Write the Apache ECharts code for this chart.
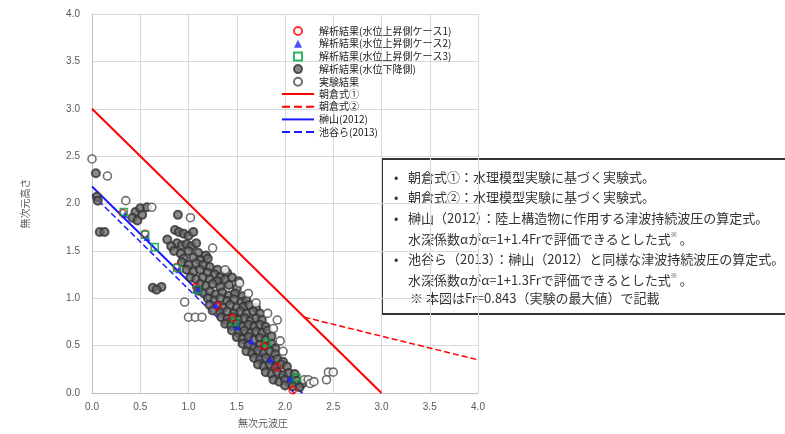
<!DOCTYPE html>
<html><head><meta charset="utf-8">
<script src="https://cdn.jsdelivr.net/npm/echarts@6/dist/echarts.min.js"></script>
<style>html,body{margin:0;padding:0;background:#fff}#c{width:785px;height:434px}</style>
</head><body><div id="c"></div>
<script>
// ---- data ----
const case1 = [[0.32,1.90],[0.55,1.68],[0.88,1.33],[1.08,1.12],[1.30,0.92],[1.45,0.79],[1.78,0.50],[1.92,0.27],[2.08,0.03]];
const case2 = [[0.34,1.88],[0.57,1.64],[0.90,1.30],[1.10,1.10],[1.28,0.93],[1.50,0.70],[1.65,0.55],[1.85,0.35],[2.05,0.15]];
const case3 = [[0.33,1.91],[0.55,1.67],[0.65,1.54],[0.88,1.32],[1.09,1.09],[1.48,0.75],[1.81,0.53],[2.12,0.16]];
const falling = [
 [0.04,2.32],[0.05,2.07],[0.06,2.03],[0.08,1.70],[0.13,1.70],
 [0.45,1.91],[0.50,1.95],[0.57,1.96],[0.42,1.85],[0.47,1.82],[0.52,1.88],
 [0.63,1.11],[0.72,1.12],[0.67,1.09],[0.89,1.88],
 [0.86,1.72],[0.90,1.70],[0.95,1.68],[1.00,1.66],[1.05,1.70],
 [0.78,1.62],[0.88,1.58],[0.93,1.56],[0.98,1.57],[1.03,1.55],[1.08,1.58],[0.82,1.55],
 [0.85,1.50],[0.92,1.47],[1.00,1.50],[1.10,1.48],[1.18,1.45],[0.95,1.42],[1.05,1.43],[1.12,1.40],[1.20,1.42],
 [0.93,1.38],[1.00,1.35],[1.08,1.37],[1.15,1.35],[1.22,1.33],[1.30,1.30],[1.40,1.27],[0.98,1.30],[1.05,1.28],[1.12,1.30],[1.20,1.27],[1.27,1.25],[1.33,1.22],
 [1.02,1.22],[1.08,1.20],[1.15,1.22],[1.22,1.20],[1.30,1.18],[1.38,1.20],[1.45,1.22],[1.52,1.18],[1.12,1.15],[1.18,1.13],[1.25,1.15],[1.33,1.12],[1.42,1.14],[1.50,1.10],
 [1.10,1.08],[1.16,1.05],[1.22,1.07],[1.28,1.04],[1.35,1.06],[1.42,1.03],[1.48,1.05],[1.56,1.02],[1.20,1.00],[1.27,0.98],[1.33,1.00],[1.40,0.97],[1.47,0.99],[1.55,0.96],[1.60,0.98],
 [1.22,0.93],[1.30,0.92],[1.36,0.90],[1.43,0.93],[1.50,0.90],[1.57,0.91],[1.63,0.93],[1.70,0.90],[1.25,0.87],[1.33,0.85],[1.40,0.86],[1.47,0.84],[1.54,0.86],[1.60,0.84],[1.67,0.86],[1.74,0.84],
 [1.34,0.80],[1.40,0.78],[1.46,0.80],[1.52,0.77],[1.58,0.79],[1.64,0.76],[1.70,0.79],[1.76,0.77],[1.38,0.73],[1.44,0.71],[1.50,0.73],[1.56,0.70],[1.62,0.72],[1.68,0.70],[1.74,0.72],[1.80,0.70],
 [1.45,0.66],[1.52,0.64],[1.58,0.66],[1.64,0.63],[1.70,0.65],[1.76,0.63],[1.82,0.66],[1.50,0.59],[1.56,0.57],[1.62,0.59],[1.68,0.56],[1.74,0.58],[1.80,0.56],[1.86,0.60],
 [1.56,0.52],[1.62,0.50],[1.68,0.48],[1.74,0.51],[1.80,0.49],[1.86,0.52],[1.90,0.47],[1.60,0.44],[1.66,0.42],[1.72,0.45],[1.78,0.42],[1.84,0.44],[1.90,0.41],
 [1.68,0.37],[1.74,0.35],[1.80,0.37],[1.86,0.34],[1.92,0.36],[1.98,0.33],[1.72,0.30],[1.78,0.28],[1.84,0.30],[1.90,0.27],[1.96,0.30],[2.02,0.28],
 [1.80,0.22],[1.86,0.20],[1.92,0.22],[1.98,0.19],[2.04,0.21],[2.10,0.20],[1.88,0.14],[1.94,0.12],[2.00,0.14],[2.06,0.11],[2.12,0.13],[2.18,0.10],[2.00,0.08],[2.08,0.07],[2.15,0.06]
];
const experiment = [
 [0.00,2.47],[0.16,2.29],[0.35,2.03],[0.62,1.96],[1.02,1.85],[1.25,1.53],[1.38,1.30],[1.53,1.16],[1.62,1.05],[1.70,0.95],
 [1.82,0.84],[1.92,0.77],[1.88,0.68],[1.95,0.55],[1.98,0.44],[2.20,0.14],[2.24,0.14],[2.26,0.10],[2.30,0.12],
 [2.45,0.22],[2.43,0.14],[2.50,0.22],[0.96,0.96],[1.00,0.80],[1.07,0.80],[1.14,0.80]
];
const asakura1 = [[0,3.0],[3.0,0]];
const asakura2 = [[2.2,0.8],[4.0,0.35]];
const sakakiyama = [[0,2.18],[2.18,0]];
const ikeya = [[0,2.096],[2.096,0]];
const axisTicks = [0,0.5,1,1.5,2,2.5,3,3.5,4];

const names = ['解析結果(水位上昇側ケース1)','解析結果(水位上昇側ケース2)','解析結果(水位上昇側ケース3)','解析結果(水位下降側)','実験結果','朝倉式①','朝倉式②','榊山(2012)','池谷ら(2013)'];

const chart = echarts.init(document.getElementById('c'));
const axisCommon = {
  type:'value', min:axisTicks[0], max:axisTicks[axisTicks.length-1], interval:0.5,
  axisLine:{show:true,lineStyle:{color:'#bfbfbf',width:1}},
  axisTick:{show:false},
  splitLine:{show:true,lineStyle:{color:'#d9d9d9',width:1}},
  axisLabel:{color:'#595959',fontSize:10,fontFamily:'Liberation Sans',formatter:v=>v.toFixed(1)}
};
const lineSeries=(name,data,color,type,width)=>({name,type:'line',data,showSymbol:false,symbol:'none',
  lineStyle:{color,width,type},itemStyle:{color},z:3,animation:false});
const legTxt = {color:'#222',fontSize:10,lineHeight:12,fontFamily:'Noto Sans CJK JP'};
chart.setOption({
  animation:false,
  grid:{left:92,right:307,top:14,bottom:41},
  xAxis:Object.assign({},axisCommon,{axisLabel:Object.assign({},axisCommon.axisLabel,{margin:9})}),
  yAxis:Object.assign({},axisCommon,{axisLabel:Object.assign({},axisCommon.axisLabel,{margin:12}),
    name:'無次元高さ',nameLocation:'middle',nameRotate:90,nameGap:62,
    nameTextStyle:{color:'#595959',fontSize:10,fontFamily:'Noto Sans CJK JP'}}),
  legend:[
    {orient:'vertical',left:288,top:20,itemWidth:8,itemHeight:8,itemGap:0.7,
     data:names.slice(0,5),
     textStyle:Object.assign({},legTxt,{padding:[0,0,0,12]})},
    {orient:'vertical',left:276,top:83,itemWidth:32,itemHeight:8,itemGap:0.7,
     data:names.slice(5).map(n=>({name:n,itemStyle:{opacity:0}})),
     textStyle:legTxt}
  ],
  series:[
    {name:names[0],type:'scatter',data:case1,symbol:'circle',symbolSize:7,itemStyle:{color:'rgba(255,255,255,0)',borderColor:'#ff0000',borderWidth:1.6},z:5},
    {name:names[1],type:'scatter',data:case2,symbol:'triangle',symbolSize:7,itemStyle:{color:'#2020ff'},z:5},
    {name:names[2],type:'scatter',data:case3,symbol:'rect',symbolSize:7,itemStyle:{color:'rgba(255,255,255,0)',borderColor:'#00a040',borderWidth:1.6},z:5},
    {name:names[3],type:'scatter',data:falling,symbol:'circle',symbolSize:8,itemStyle:{color:'#6a6a6a',borderColor:'#333',borderWidth:2},z:4},
    {name:names[4],type:'scatter',data:experiment,symbol:'circle',symbolSize:8,itemStyle:{color:'#ffffff',borderColor:'#4a4a4a',borderWidth:1.6},z:4},
    lineSeries(names[5],asakura1,'#ff0000','solid',2),
    lineSeries(names[6],asakura2,'#ff0000','dashed',1.5),
    lineSeries(names[7],sakakiyama,'#1a1aff','solid',2),
    lineSeries(names[8],ikeya,'#1a1aff','dashed',1.5)
  ],
  graphic:[
    {type:'text',x:263,y:423,style:{text:'無次元波圧',fill:'#595959',font:'10px "Noto Sans CJK JP"',textAlign:'center',textVerticalAlign:'middle'}},
    {type:'group',left:381,top:158,children:[
      {type:'rect',shape:{x:0,y:0,width:420,height:155},style:{fill:'#fff',stroke:'#333',lineWidth:2}},
      {type:'text',style:{x:12,y:12,text:'•',fill:'#333',font:'13px "Noto Sans CJK JP"'}},
      {type:'text',style:{x:26,y:12,text:'朝倉式①：水理模型実験に基づく実験式。',fill:'#333',font:'13px "Noto Sans CJK JP"'}},
      {type:'text',style:{x:12,y:32,text:'•',fill:'#333',font:'13px "Noto Sans CJK JP"'}},
      {type:'text',style:{x:26,y:32,text:'朝倉式②：水理模型実験に基づく実験式。',fill:'#333',font:'13px "Noto Sans CJK JP"'}},
      {type:'text',style:{x:12,y:53,text:'•',fill:'#333',font:'13px "Noto Sans CJK JP"'}},
      {type:'text',style:{x:26,y:53,text:'榊山（2012）：陸上構造物に作用する津波持続波圧の算定式。',fill:'#333',font:'13px "Noto Sans CJK JP"'}},
      {type:'text',style:{x:26,y:73,text:'水深係数αがα=1+1.4Frで評価できるとした式{s|※} 。',fill:'#333',font:'13px "Noto Sans CJK JP"',rich:{s:{fontSize:7,verticalAlign:'top',padding:[0,0,8,0]}}}},
      {type:'text',style:{x:12,y:94,text:'•',fill:'#333',font:'13px "Noto Sans CJK JP"'}},
      {type:'text',style:{x:26,y:94,text:'池谷ら（2013）：榊山（2012）と同様な津波持続波圧の算定式。',fill:'#333',font:'13px "Noto Sans CJK JP"'}},
      {type:'text',style:{x:26,y:114,text:'水深係数αがα=1+1.3Frで評価できるとした式{s|※} 。',fill:'#333',font:'13px "Noto Sans CJK JP"',rich:{s:{fontSize:7,verticalAlign:'top',padding:[0,0,8,0]}}}},
      {type:'text',style:{x:28,y:133,text:'※ 本図はFr=0.843（実験の最大値）で記載',fill:'#333',font:'13px "Noto Sans CJK JP"'}}
    ]}
  ]
});
</script></body></html>
